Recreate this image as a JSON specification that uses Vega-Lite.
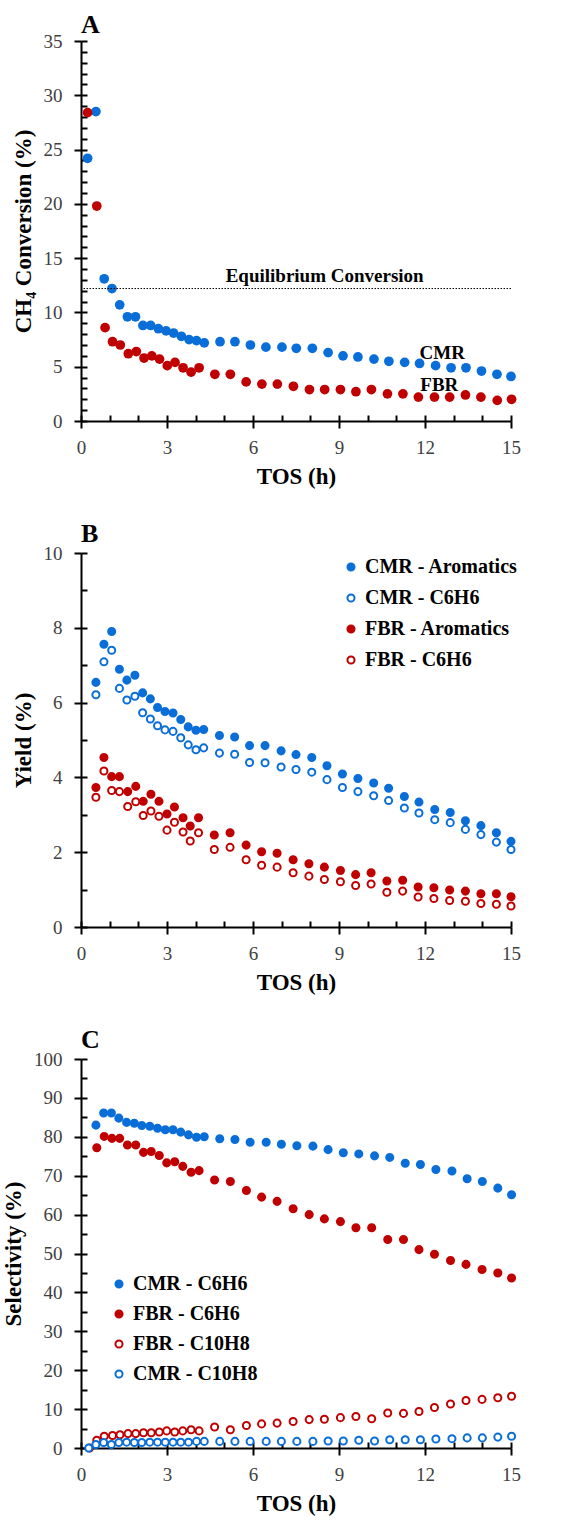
{
  "$schema": "https://vega.github.io/schema/vega-lite/v6.json",
  "padding": {"left": 2, "top": 12, "right": 5, "bottom": 5},
  "spacing": 33,
  "resolve": {"scale": {"color": "independent", "fill": "independent", "stroke": "independent", "x": "independent", "y": "independent"}, "legend": {"fill": "independent", "stroke": "independent", "color": "independent"}},
  "config": {
    "font": "Liberation Serif",
    "view": {"stroke": null},
    "axis": {"grid": false, "domainColor": "black", "domainWidth": 2, "tickColor": "black", "tickWidth": 2, "labelFont": "Liberation Serif", "labelFontSize": 19, "labelColor": "#404040", "labelOverlap": false, "labelFlush": false, "titleFont": "Liberation Serif", "titleFontSize": 23, "titleFontWeight": "bold", "titleColor": "black"},
    "title": {"font": "Liberation Serif", "fontSize": 26, "fontWeight": "bold", "anchor": "start", "frame": "group", "color": "black", "offset": -6},
    "text": {"font": "Liberation Serif"}
  },
  "datasets": {
    "convA": [
      {"reactor": "CMR", "tos": 0.23, "value": 24.2}, {"reactor": "CMR", "tos": 0.52, "value": 28.5}, {"reactor": "CMR", "tos": 0.81, "value": 13.1}, {"reactor": "CMR", "tos": 1.08, "value": 12.2}, {"reactor": "CMR", "tos": 1.35, "value": 10.7}, {"reactor": "CMR", "tos": 1.62, "value": 9.6}, {"reactor": "CMR", "tos": 1.9, "value": 9.6}, {"reactor": "CMR", "tos": 2.16, "value": 8.8}, {"reactor": "CMR", "tos": 2.43, "value": 8.8}, {"reactor": "CMR", "tos": 2.7, "value": 8.5}, {"reactor": "CMR", "tos": 2.97, "value": 8.3}, {"reactor": "CMR", "tos": 3.23, "value": 8.1}, {"reactor": "CMR", "tos": 3.5, "value": 7.8}, {"reactor": "CMR", "tos": 3.77, "value": 7.5}, {"reactor": "CMR", "tos": 4.03, "value": 7.4}, {"reactor": "CMR", "tos": 4.3, "value": 7.2}, {"reactor": "CMR", "tos": 4.85, "value": 7.3}, {"reactor": "CMR", "tos": 5.37, "value": 7.3}, {"reactor": "CMR", "tos": 5.91, "value": 7.0}, {"reactor": "CMR", "tos": 6.45, "value": 6.8}, {"reactor": "CMR", "tos": 7.01, "value": 6.8}, {"reactor": "CMR", "tos": 7.51, "value": 6.7}, {"reactor": "CMR", "tos": 8.07, "value": 6.7}, {"reactor": "CMR", "tos": 8.62, "value": 6.3}, {"reactor": "CMR", "tos": 9.14, "value": 6.0}, {"reactor": "CMR", "tos": 9.66, "value": 5.9}, {"reactor": "CMR", "tos": 10.22, "value": 5.7}, {"reactor": "CMR", "tos": 10.74, "value": 5.5}, {"reactor": "CMR", "tos": 11.29, "value": 5.4}, {"reactor": "CMR", "tos": 11.81, "value": 5.3}, {"reactor": "CMR", "tos": 12.37, "value": 5.1}, {"reactor": "CMR", "tos": 12.91, "value": 4.9}, {"reactor": "CMR", "tos": 13.43, "value": 4.9}, {"reactor": "CMR", "tos": 13.97, "value": 4.6}, {"reactor": "CMR", "tos": 14.51, "value": 4.3}, {"reactor": "CMR", "tos": 15.0, "value": 4.1},
      {"reactor": "FBR", "tos": 0.23, "value": 28.4}, {"reactor": "FBR", "tos": 0.55, "value": 19.8}, {"reactor": "FBR", "tos": 0.84, "value": 8.6}, {"reactor": "FBR", "tos": 1.1, "value": 7.3}, {"reactor": "FBR", "tos": 1.37, "value": 7.0}, {"reactor": "FBR", "tos": 1.65, "value": 6.2}, {"reactor": "FBR", "tos": 1.93, "value": 6.4}, {"reactor": "FBR", "tos": 2.2, "value": 5.8}, {"reactor": "FBR", "tos": 2.47, "value": 6.0}, {"reactor": "FBR", "tos": 2.74, "value": 5.7}, {"reactor": "FBR", "tos": 3.01, "value": 5.1}, {"reactor": "FBR", "tos": 3.28, "value": 5.4}, {"reactor": "FBR", "tos": 3.56, "value": 4.9}, {"reactor": "FBR", "tos": 3.84, "value": 4.5}, {"reactor": "FBR", "tos": 4.12, "value": 4.9}, {"reactor": "FBR", "tos": 4.67, "value": 4.3}, {"reactor": "FBR", "tos": 5.21, "value": 4.3}, {"reactor": "FBR", "tos": 5.76, "value": 3.6}, {"reactor": "FBR", "tos": 6.31, "value": 3.4}, {"reactor": "FBR", "tos": 6.85, "value": 3.4}, {"reactor": "FBR", "tos": 7.41, "value": 3.2}, {"reactor": "FBR", "tos": 7.97, "value": 2.9}, {"reactor": "FBR", "tos": 8.5, "value": 2.9}, {"reactor": "FBR", "tos": 9.05, "value": 2.9}, {"reactor": "FBR", "tos": 9.59, "value": 2.7}, {"reactor": "FBR", "tos": 10.13, "value": 2.9}, {"reactor": "FBR", "tos": 10.69, "value": 2.5}, {"reactor": "FBR", "tos": 11.23, "value": 2.5}, {"reactor": "FBR", "tos": 11.77, "value": 2.2}, {"reactor": "FBR", "tos": 12.33, "value": 2.2}, {"reactor": "FBR", "tos": 12.86, "value": 2.2}, {"reactor": "FBR", "tos": 13.41, "value": 2.4}, {"reactor": "FBR", "tos": 13.95, "value": 2.2}, {"reactor": "FBR", "tos": 14.52, "value": 1.9}, {"reactor": "FBR", "tos": 15.02, "value": 2.0}
    ],
    "eqA": [{"value": 12.2}],
    "labelsA": [
      {"label": "Equilibrium Conversion", "tos": 8.5, "value": 12.8},
      {"label": "CMR", "tos": 12.6, "value": 5.7},
      {"label": "FBR", "tos": 12.5, "value": 2.8}
    ],
    "yieldB": [
      {"series": "CMR - Aromatics", "tos": 0.52, "value": 6.54}, {"series": "CMR - Aromatics", "tos": 0.8, "value": 7.56}, {"series": "CMR - Aromatics", "tos": 1.07, "value": 7.9}, {"series": "CMR - Aromatics", "tos": 1.34, "value": 6.89}, {"series": "CMR - Aromatics", "tos": 1.6, "value": 6.6}, {"series": "CMR - Aromatics", "tos": 1.88, "value": 6.73}, {"series": "CMR - Aromatics", "tos": 2.15, "value": 6.26}, {"series": "CMR - Aromatics", "tos": 2.42, "value": 6.1}, {"series": "CMR - Aromatics", "tos": 2.67, "value": 5.87}, {"series": "CMR - Aromatics", "tos": 2.93, "value": 5.76}, {"series": "CMR - Aromatics", "tos": 3.21, "value": 5.72}, {"series": "CMR - Aromatics", "tos": 3.48, "value": 5.55}, {"series": "CMR - Aromatics", "tos": 3.74, "value": 5.35}, {"series": "CMR - Aromatics", "tos": 4.01, "value": 5.26}, {"series": "CMR - Aromatics", "tos": 4.28, "value": 5.28}, {"series": "CMR - Aromatics", "tos": 4.83, "value": 5.12}, {"series": "CMR - Aromatics", "tos": 5.36, "value": 5.08}, {"series": "CMR - Aromatics", "tos": 5.88, "value": 4.85}, {"series": "CMR - Aromatics", "tos": 6.42, "value": 4.85}, {"series": "CMR - Aromatics", "tos": 6.98, "value": 4.71}, {"series": "CMR - Aromatics", "tos": 7.5, "value": 4.61}, {"series": "CMR - Aromatics", "tos": 8.05, "value": 4.53}, {"series": "CMR - Aromatics", "tos": 8.58, "value": 4.31}, {"series": "CMR - Aromatics", "tos": 9.12, "value": 4.09}, {"series": "CMR - Aromatics", "tos": 9.66, "value": 3.97}, {"series": "CMR - Aromatics", "tos": 10.21, "value": 3.85}, {"series": "CMR - Aromatics", "tos": 10.73, "value": 3.71}, {"series": "CMR - Aromatics", "tos": 11.28, "value": 3.49}, {"series": "CMR - Aromatics", "tos": 11.79, "value": 3.34}, {"series": "CMR - Aromatics", "tos": 12.34, "value": 3.14}, {"series": "CMR - Aromatics", "tos": 12.88, "value": 3.06}, {"series": "CMR - Aromatics", "tos": 13.41, "value": 2.84}, {"series": "CMR - Aromatics", "tos": 13.95, "value": 2.71}, {"series": "CMR - Aromatics", "tos": 14.49, "value": 2.52}, {"series": "CMR - Aromatics", "tos": 15.0, "value": 2.29},
      {"series": "CMR - C6H6", "tos": 0.52, "value": 6.21}, {"series": "CMR - C6H6", "tos": 0.8, "value": 7.09}, {"series": "CMR - C6H6", "tos": 1.07, "value": 7.4}, {"series": "CMR - C6H6", "tos": 1.34, "value": 6.38}, {"series": "CMR - C6H6", "tos": 1.6, "value": 6.07}, {"series": "CMR - C6H6", "tos": 1.88, "value": 6.17}, {"series": "CMR - C6H6", "tos": 2.15, "value": 5.73}, {"series": "CMR - C6H6", "tos": 2.42, "value": 5.56}, {"series": "CMR - C6H6", "tos": 2.67, "value": 5.38}, {"series": "CMR - C6H6", "tos": 2.93, "value": 5.27}, {"series": "CMR - C6H6", "tos": 3.21, "value": 5.23}, {"series": "CMR - C6H6", "tos": 3.48, "value": 5.06}, {"series": "CMR - C6H6", "tos": 3.74, "value": 4.87}, {"series": "CMR - C6H6", "tos": 4.01, "value": 4.74}, {"series": "CMR - C6H6", "tos": 4.28, "value": 4.79}, {"series": "CMR - C6H6", "tos": 4.83, "value": 4.65}, {"series": "CMR - C6H6", "tos": 5.36, "value": 4.62}, {"series": "CMR - C6H6", "tos": 5.88, "value": 4.4}, {"series": "CMR - C6H6", "tos": 6.42, "value": 4.39}, {"series": "CMR - C6H6", "tos": 6.98, "value": 4.28}, {"series": "CMR - C6H6", "tos": 7.5, "value": 4.21}, {"series": "CMR - C6H6", "tos": 8.05, "value": 4.14}, {"series": "CMR - C6H6", "tos": 8.58, "value": 3.94}, {"series": "CMR - C6H6", "tos": 9.12, "value": 3.73}, {"series": "CMR - C6H6", "tos": 9.66, "value": 3.62}, {"series": "CMR - C6H6", "tos": 10.21, "value": 3.51}, {"series": "CMR - C6H6", "tos": 10.73, "value": 3.38}, {"series": "CMR - C6H6", "tos": 11.28, "value": 3.18}, {"series": "CMR - C6H6", "tos": 11.79, "value": 3.05}, {"series": "CMR - C6H6", "tos": 12.34, "value": 2.87}, {"series": "CMR - C6H6", "tos": 12.88, "value": 2.79}, {"series": "CMR - C6H6", "tos": 13.41, "value": 2.61}, {"series": "CMR - C6H6", "tos": 13.95, "value": 2.47}, {"series": "CMR - C6H6", "tos": 14.49, "value": 2.27}, {"series": "CMR - C6H6", "tos": 15.0, "value": 2.07},
      {"series": "FBR - Aromatics", "tos": 0.52, "value": 3.73}, {"series": "FBR - Aromatics", "tos": 0.8, "value": 4.53}, {"series": "FBR - Aromatics", "tos": 1.07, "value": 4.02}, {"series": "FBR - Aromatics", "tos": 1.34, "value": 4.02}, {"series": "FBR - Aromatics", "tos": 1.63, "value": 3.62}, {"series": "FBR - Aromatics", "tos": 1.91, "value": 3.76}, {"series": "FBR - Aromatics", "tos": 2.17, "value": 3.36}, {"series": "FBR - Aromatics", "tos": 2.44, "value": 3.55}, {"series": "FBR - Aromatics", "tos": 2.72, "value": 3.36}, {"series": "FBR - Aromatics", "tos": 3.0, "value": 3.02}, {"series": "FBR - Aromatics", "tos": 3.26, "value": 3.21}, {"series": "FBR - Aromatics", "tos": 3.56, "value": 2.92}, {"series": "FBR - Aromatics", "tos": 3.81, "value": 2.7}, {"series": "FBR - Aromatics", "tos": 4.1, "value": 2.92}, {"series": "FBR - Aromatics", "tos": 4.65, "value": 2.46}, {"series": "FBR - Aromatics", "tos": 5.2, "value": 2.52}, {"series": "FBR - Aromatics", "tos": 5.76, "value": 2.19}, {"series": "FBR - Aromatics", "tos": 6.3, "value": 2.01}, {"series": "FBR - Aromatics", "tos": 6.84, "value": 1.97}, {"series": "FBR - Aromatics", "tos": 7.4, "value": 1.8}, {"series": "FBR - Aromatics", "tos": 7.95, "value": 1.69}, {"series": "FBR - Aromatics", "tos": 8.49, "value": 1.6}, {"series": "FBR - Aromatics", "tos": 9.05, "value": 1.51}, {"series": "FBR - Aromatics", "tos": 9.58, "value": 1.4}, {"series": "FBR - Aromatics", "tos": 10.12, "value": 1.45}, {"series": "FBR - Aromatics", "tos": 10.67, "value": 1.23}, {"series": "FBR - Aromatics", "tos": 11.22, "value": 1.25}, {"series": "FBR - Aromatics", "tos": 11.76, "value": 1.07}, {"series": "FBR - Aromatics", "tos": 12.31, "value": 1.05}, {"series": "FBR - Aromatics", "tos": 12.86, "value": 0.99}, {"series": "FBR - Aromatics", "tos": 13.41, "value": 0.96}, {"series": "FBR - Aromatics", "tos": 13.95, "value": 0.89}, {"series": "FBR - Aromatics", "tos": 14.49, "value": 0.89}, {"series": "FBR - Aromatics", "tos": 15.0, "value": 0.81},
      {"series": "FBR - C6H6", "tos": 0.52, "value": 3.47}, {"series": "FBR - C6H6", "tos": 0.8, "value": 4.17}, {"series": "FBR - C6H6", "tos": 1.07, "value": 3.65}, {"series": "FBR - C6H6", "tos": 1.34, "value": 3.62}, {"series": "FBR - C6H6", "tos": 1.63, "value": 3.22}, {"series": "FBR - C6H6", "tos": 1.91, "value": 3.35}, {"series": "FBR - C6H6", "tos": 2.17, "value": 2.98}, {"series": "FBR - C6H6", "tos": 2.44, "value": 3.1}, {"series": "FBR - C6H6", "tos": 2.72, "value": 2.96}, {"series": "FBR - C6H6", "tos": 3.0, "value": 2.59}, {"series": "FBR - C6H6", "tos": 3.26, "value": 2.8}, {"series": "FBR - C6H6", "tos": 3.56, "value": 2.54}, {"series": "FBR - C6H6", "tos": 3.81, "value": 2.3}, {"series": "FBR - C6H6", "tos": 4.1, "value": 2.52}, {"series": "FBR - C6H6", "tos": 4.65, "value": 2.07}, {"series": "FBR - C6H6", "tos": 5.2, "value": 2.13}, {"series": "FBR - C6H6", "tos": 5.76, "value": 1.8}, {"series": "FBR - C6H6", "tos": 6.3, "value": 1.65}, {"series": "FBR - C6H6", "tos": 6.84, "value": 1.6}, {"series": "FBR - C6H6", "tos": 7.4, "value": 1.45}, {"series": "FBR - C6H6", "tos": 7.95, "value": 1.36}, {"series": "FBR - C6H6", "tos": 8.49, "value": 1.27}, {"series": "FBR - C6H6", "tos": 9.05, "value": 1.21}, {"series": "FBR - C6H6", "tos": 9.58, "value": 1.11}, {"series": "FBR - C6H6", "tos": 10.12, "value": 1.15}, {"series": "FBR - C6H6", "tos": 10.67, "value": 0.93}, {"series": "FBR - C6H6", "tos": 11.22, "value": 0.96}, {"series": "FBR - C6H6", "tos": 11.76, "value": 0.8}, {"series": "FBR - C6H6", "tos": 12.31, "value": 0.76}, {"series": "FBR - C6H6", "tos": 12.86, "value": 0.71}, {"series": "FBR - C6H6", "tos": 13.41, "value": 0.69}, {"series": "FBR - C6H6", "tos": 13.95, "value": 0.63}, {"series": "FBR - C6H6", "tos": 14.49, "value": 0.61}, {"series": "FBR - C6H6", "tos": 15.0, "value": 0.56}
    ],
    "selC": [
      {"series": "CMR - C6H6", "tos": 0.52, "value": 83.0}, {"series": "CMR - C6H6", "tos": 0.79, "value": 86.1}, {"series": "CMR - C6H6", "tos": 1.06, "value": 86.1}, {"series": "CMR - C6H6", "tos": 1.32, "value": 84.8}, {"series": "CMR - C6H6", "tos": 1.59, "value": 83.7}, {"series": "CMR - C6H6", "tos": 1.86, "value": 83.5}, {"series": "CMR - C6H6", "tos": 2.12, "value": 82.9}, {"series": "CMR - C6H6", "tos": 2.4, "value": 82.7}, {"series": "CMR - C6H6", "tos": 2.67, "value": 82.2}, {"series": "CMR - C6H6", "tos": 2.94, "value": 81.8}, {"series": "CMR - C6H6", "tos": 3.21, "value": 81.8}, {"series": "CMR - C6H6", "tos": 3.48, "value": 81.2}, {"series": "CMR - C6H6", "tos": 3.75, "value": 80.5}, {"series": "CMR - C6H6", "tos": 4.03, "value": 79.9}, {"series": "CMR - C6H6", "tos": 4.3, "value": 80.0}, {"series": "CMR - C6H6", "tos": 4.84, "value": 79.5}, {"series": "CMR - C6H6", "tos": 5.37, "value": 79.3}, {"series": "CMR - C6H6", "tos": 5.9, "value": 78.6}, {"series": "CMR - C6H6", "tos": 6.46, "value": 78.6}, {"series": "CMR - C6H6", "tos": 6.99, "value": 78.1}, {"series": "CMR - C6H6", "tos": 7.53, "value": 77.7}, {"series": "CMR - C6H6", "tos": 8.09, "value": 77.6}, {"series": "CMR - C6H6", "tos": 8.62, "value": 76.7}, {"series": "CMR - C6H6", "tos": 9.15, "value": 75.9}, {"series": "CMR - C6H6", "tos": 9.69, "value": 75.6}, {"series": "CMR - C6H6", "tos": 10.24, "value": 75.1}, {"series": "CMR - C6H6", "tos": 10.77, "value": 74.7}, {"series": "CMR - C6H6", "tos": 11.31, "value": 73.2}, {"series": "CMR - C6H6", "tos": 11.84, "value": 72.9}, {"series": "CMR - C6H6", "tos": 12.38, "value": 71.6}, {"series": "CMR - C6H6", "tos": 12.94, "value": 71.2}, {"series": "CMR - C6H6", "tos": 13.47, "value": 69.2}, {"series": "CMR - C6H6", "tos": 14.0, "value": 68.5}, {"series": "CMR - C6H6", "tos": 14.54, "value": 66.8}, {"series": "CMR - C6H6", "tos": 15.02, "value": 65.1},
      {"series": "FBR - C6H6", "tos": 0.55, "value": 77.2}, {"series": "FBR - C6H6", "tos": 0.81, "value": 80.1}, {"series": "FBR - C6H6", "tos": 1.08, "value": 79.6}, {"series": "FBR - C6H6", "tos": 1.35, "value": 79.6}, {"series": "FBR - C6H6", "tos": 1.62, "value": 77.9}, {"series": "FBR - C6H6", "tos": 1.91, "value": 77.9}, {"series": "FBR - C6H6", "tos": 2.18, "value": 76.0}, {"series": "FBR - C6H6", "tos": 2.45, "value": 76.2}, {"series": "FBR - C6H6", "tos": 2.73, "value": 75.2}, {"series": "FBR - C6H6", "tos": 2.99, "value": 73.3}, {"series": "FBR - C6H6", "tos": 3.27, "value": 73.6}, {"series": "FBR - C6H6", "tos": 3.55, "value": 72.4}, {"series": "FBR - C6H6", "tos": 3.84, "value": 70.9}, {"series": "FBR - C6H6", "tos": 4.12, "value": 71.3}, {"series": "FBR - C6H6", "tos": 4.66, "value": 68.9}, {"series": "FBR - C6H6", "tos": 5.21, "value": 68.5}, {"series": "FBR - C6H6", "tos": 5.77, "value": 66.2}, {"series": "FBR - C6H6", "tos": 6.3, "value": 64.5}, {"series": "FBR - C6H6", "tos": 6.84, "value": 63.4}, {"series": "FBR - C6H6", "tos": 7.4, "value": 61.5}, {"series": "FBR - C6H6", "tos": 7.96, "value": 60.0}, {"series": "FBR - C6H6", "tos": 8.49, "value": 58.9}, {"series": "FBR - C6H6", "tos": 9.05, "value": 58.2}, {"series": "FBR - C6H6", "tos": 9.59, "value": 56.6}, {"series": "FBR - C6H6", "tos": 10.14, "value": 56.6}, {"series": "FBR - C6H6", "tos": 10.7, "value": 53.6}, {"series": "FBR - C6H6", "tos": 11.25, "value": 53.6}, {"series": "FBR - C6H6", "tos": 11.79, "value": 51.0}, {"series": "FBR - C6H6", "tos": 12.33, "value": 49.8}, {"series": "FBR - C6H6", "tos": 12.89, "value": 48.2}, {"series": "FBR - C6H6", "tos": 13.43, "value": 47.2}, {"series": "FBR - C6H6", "tos": 13.99, "value": 45.9}, {"series": "FBR - C6H6", "tos": 14.54, "value": 45.0}, {"series": "FBR - C6H6", "tos": 15.02, "value": 43.7},
      {"series": "FBR - C10H8", "tos": 0.3, "value": 0.0}, {"series": "FBR - C10H8", "tos": 0.55, "value": 2.0}, {"series": "FBR - C10H8", "tos": 0.81, "value": 3.0}, {"series": "FBR - C10H8", "tos": 1.1, "value": 3.2}, {"series": "FBR - C10H8", "tos": 1.36, "value": 3.4}, {"series": "FBR - C10H8", "tos": 1.64, "value": 3.7}, {"series": "FBR - C10H8", "tos": 1.91, "value": 3.7}, {"series": "FBR - C10H8", "tos": 2.18, "value": 3.9}, {"series": "FBR - C10H8", "tos": 2.45, "value": 3.9}, {"series": "FBR - C10H8", "tos": 2.73, "value": 4.1}, {"series": "FBR - C10H8", "tos": 2.99, "value": 4.4}, {"series": "FBR - C10H8", "tos": 3.27, "value": 4.1}, {"series": "FBR - C10H8", "tos": 3.55, "value": 4.4}, {"series": "FBR - C10H8", "tos": 3.84, "value": 4.7}, {"series": "FBR - C10H8", "tos": 4.12, "value": 4.4}, {"series": "FBR - C10H8", "tos": 4.66, "value": 5.4}, {"series": "FBR - C10H8", "tos": 5.21, "value": 4.7}, {"series": "FBR - C10H8", "tos": 5.77, "value": 5.8}, {"series": "FBR - C10H8", "tos": 6.3, "value": 6.2}, {"series": "FBR - C10H8", "tos": 6.84, "value": 6.4}, {"series": "FBR - C10H8", "tos": 7.4, "value": 6.8}, {"series": "FBR - C10H8", "tos": 7.96, "value": 7.3}, {"series": "FBR - C10H8", "tos": 8.49, "value": 7.4}, {"series": "FBR - C10H8", "tos": 9.05, "value": 7.8}, {"series": "FBR - C10H8", "tos": 9.59, "value": 8.1}, {"series": "FBR - C10H8", "tos": 10.14, "value": 7.5}, {"series": "FBR - C10H8", "tos": 10.7, "value": 9.0}, {"series": "FBR - C10H8", "tos": 11.25, "value": 8.9}, {"series": "FBR - C10H8", "tos": 11.79, "value": 9.4}, {"series": "FBR - C10H8", "tos": 12.33, "value": 10.4}, {"series": "FBR - C10H8", "tos": 12.89, "value": 11.3}, {"series": "FBR - C10H8", "tos": 13.43, "value": 12.2}, {"series": "FBR - C10H8", "tos": 13.99, "value": 12.5}, {"series": "FBR - C10H8", "tos": 14.54, "value": 12.9}, {"series": "FBR - C10H8", "tos": 15.02, "value": 13.3},
      {"series": "CMR - C10H8", "tos": 0.27, "value": 0.0}, {"series": "CMR - C10H8", "tos": 0.52, "value": 0.9}, {"series": "CMR - C10H8", "tos": 0.79, "value": 1.4}, {"series": "CMR - C10H8", "tos": 1.06, "value": 0.9}, {"series": "CMR - C10H8", "tos": 1.32, "value": 1.4}, {"series": "CMR - C10H8", "tos": 1.59, "value": 1.5}, {"series": "CMR - C10H8", "tos": 1.86, "value": 1.4}, {"series": "CMR - C10H8", "tos": 2.12, "value": 1.4}, {"series": "CMR - C10H8", "tos": 2.4, "value": 1.5}, {"series": "CMR - C10H8", "tos": 2.67, "value": 1.5}, {"series": "CMR - C10H8", "tos": 2.94, "value": 1.5}, {"series": "CMR - C10H8", "tos": 3.21, "value": 1.5}, {"series": "CMR - C10H8", "tos": 3.48, "value": 1.5}, {"series": "CMR - C10H8", "tos": 3.75, "value": 1.5}, {"series": "CMR - C10H8", "tos": 4.03, "value": 1.7}, {"series": "CMR - C10H8", "tos": 4.3, "value": 1.7}, {"series": "CMR - C10H8", "tos": 4.84, "value": 1.7}, {"series": "CMR - C10H8", "tos": 5.37, "value": 1.7}, {"series": "CMR - C10H8", "tos": 5.9, "value": 1.7}, {"series": "CMR - C10H8", "tos": 6.46, "value": 1.7}, {"series": "CMR - C10H8", "tos": 6.99, "value": 1.7}, {"series": "CMR - C10H8", "tos": 7.53, "value": 1.7}, {"series": "CMR - C10H8", "tos": 8.09, "value": 1.7}, {"series": "CMR - C10H8", "tos": 8.62, "value": 1.8}, {"series": "CMR - C10H8", "tos": 9.15, "value": 1.8}, {"series": "CMR - C10H8", "tos": 9.69, "value": 2.0}, {"series": "CMR - C10H8", "tos": 10.24, "value": 1.8}, {"series": "CMR - C10H8", "tos": 10.77, "value": 2.1}, {"series": "CMR - C10H8", "tos": 11.31, "value": 2.1}, {"series": "CMR - C10H8", "tos": 11.84, "value": 2.1}, {"series": "CMR - C10H8", "tos": 12.38, "value": 2.3}, {"series": "CMR - C10H8", "tos": 12.94, "value": 2.4}, {"series": "CMR - C10H8", "tos": 13.47, "value": 2.6}, {"series": "CMR - C10H8", "tos": 14.0, "value": 2.6}, {"series": "CMR - C10H8", "tos": 14.54, "value": 2.8}, {"series": "CMR - C10H8", "tos": 15.02, "value": 3.0}
    ]
  },
  "vconcat": [
    {
      "title": {"text": "A", "offset": -6},
      "width": 430,
      "height": 380,
      "resolve": {"axis": {"x": "independent", "y": "independent"}},
      "layer": [
        {
          "data": {"name": "convA"},
          "mark": {"type": "point", "shape": "circle", "filled": true, "size": 95, "opacity": 1},
          "encoding": {
            "x": {"field": "tos", "type": "quantitative", "scale": {"domain": [0, 15], "nice": false},
              "axis": {"orient": "bottom", "title": "TOS (h)", "values": [0, 3, 6, 9, 12, 15], "ticks": true, "tickSize": 7, "labelPadding": 10, "titlePadding": 8, "grid": false, "domain": true, "domainColor": "#000000", "domainWidth": 2, "tickColor": "#000000", "tickWidth": 2, "labelFont": "Liberation Serif", "labelFontSize": 19, "labelColor": "#404040", "labelOverlap": false, "labelFlush": false, "titleFont": "Liberation Serif", "titleFontSize": 23, "titleFontWeight": "bold", "titleColor": "black"}},
            "y": {"field": "value", "type": "quantitative", "scale": {"domain": [0, 35], "nice": false},
              "axis": {"orient": "left", "title": "CH₄ Conversion (%)", "values": [0, 5, 10, 15, 20, 25, 30, 35], "ticks": true, "tickSize": 7, "labelPadding": 12, "titlePadding": 8, "grid": false, "domain": true, "domainColor": "#000000", "domainWidth": 2, "tickColor": "#000000", "tickWidth": 2, "labelFont": "Liberation Serif", "labelFontSize": 19, "labelColor": "#404040", "labelOverlap": false, "titleFont": "Liberation Serif", "titleFontSize": 23, "titleFontWeight": "bold", "titleColor": "black"}},
            "color": {"field": "reactor", "type": "nominal", "scale": {"domain": ["CMR", "FBR"], "range": ["#0A6ED8", "#C00000"]}, "legend": null}
          }
        },
        {
          "data": {"name": "eqA"},
          "mark": {"type": "rule", "color": "black", "strokeWidth": 1, "strokeDash": [1.5, 1.5]},
          "encoding": {"y": {"field": "value", "type": "quantitative", "axis": null}}
        },
        {
          "data": {"name": "labelsA"},
          "mark": {"type": "text", "font": "Liberation Serif", "fontSize": 19, "fontWeight": "bold", "color": "black", "align": "center", "baseline": "alphabetic"},
          "encoding": {
            "x": {"field": "tos", "type": "quantitative",
              "axis": {"orient": "bottom", "title": null, "labels": false, "domain": false, "grid": false, "ticks": true, "tickColor": "#000000", "tickWidth": 2, "values": [0,1,2,3,4,5,6,7,8,9,10,11,12,13,14,15], "tickSize": -6}},
            "y": {"field": "value", "type": "quantitative",
              "axis": {"orient": "left", "title": null, "labels": false, "domain": false, "grid": false, "ticks": true, "tickColor": "#000000", "tickWidth": 2, "values": [0,1,2,3,4,5,6,7,8,9,10,11,12,13,14,15,16,17,18,19,20,21,22,23,24,25,26,27,28,29,30,31,32,33,34,35], "tickSize": -6}},
            "text": {"field": "label"}
          }
        }
      ]
    },
    {
      "title": {"text": "B", "offset": -3},
      "width": 430,
      "height": 374,
      "data": {"name": "yieldB"},
      "resolve": {"axis": {"x": "independent", "y": "independent"}},
      "layer": [
        {
          "mark": {"type": "point", "shape": "circle", "size": 50, "strokeWidth": 2, "opacity": 1},
          "encoding": {
            "x": {"field": "tos", "type": "quantitative", "scale": {"domain": [0, 15], "nice": false},
              "axis": {"orient": "bottom", "title": "TOS (h)", "values": [0, 3, 6, 9, 12, 15], "ticks": true, "tickSize": 7, "labelPadding": 10, "titlePadding": 8, "grid": false, "domain": true, "domainColor": "#000000", "domainWidth": 2, "tickColor": "#000000", "tickWidth": 2, "labelFont": "Liberation Serif", "labelFontSize": 19, "labelColor": "#404040", "labelOverlap": false, "labelFlush": false, "titleFont": "Liberation Serif", "titleFontSize": 23, "titleFontWeight": "bold", "titleColor": "black"}},
            "y": {"field": "value", "type": "quantitative", "scale": {"domain": [0, 10], "nice": false},
              "axis": {"orient": "left", "title": "Yield (%)", "values": [0, 2, 4, 6, 8, 10], "ticks": true, "tickSize": 7, "labelPadding": 12, "titlePadding": 8, "grid": false, "domain": true, "domainColor": "#000000", "domainWidth": 2, "tickColor": "#000000", "tickWidth": 2, "labelFont": "Liberation Serif", "labelFontSize": 19, "labelColor": "#404040", "labelOverlap": false, "titleFont": "Liberation Serif", "titleFontSize": 23, "titleFontWeight": "bold", "titleColor": "black"}},
            "fill": {"field": "series", "type": "nominal", "scale": {"domain": ["CMR - Aromatics", "CMR - C6H6", "FBR - Aromatics", "FBR - C6H6"], "range": ["#0A6ED8", "white", "#C00000", "white"]},
              "legend": {"title": null, "orient": "none", "legendX": 260, "legendY": 4, "labelFont": "Liberation Serif", "labelFontSize": 20, "labelFontWeight": "bold", "labelColor": "black", "symbolSize": 50, "symbolStrokeWidth": 2, "rowPadding": 11, "labelOffset": 4}},
            "stroke": {"field": "series", "type": "nominal", "scale": {"domain": ["CMR - Aromatics", "CMR - C6H6", "FBR - Aromatics", "FBR - C6H6"], "range": ["#0A6ED8", "#0A6ED8", "#C00000", "#C00000"]},
              "legend": {"title": null, "orient": "none", "legendX": 260, "legendY": 4, "labelFont": "Liberation Serif", "labelFontSize": 20, "labelFontWeight": "bold", "labelColor": "black", "symbolSize": 50, "symbolStrokeWidth": 2, "rowPadding": 11, "labelOffset": 4}}
          }
        },
        {
          "mark": {"type": "point", "opacity": 0},
          "encoding": {
            "x": {"field": "tos", "type": "quantitative",
              "axis": {"orient": "bottom", "title": null, "labels": false, "domain": false, "grid": false, "ticks": true, "tickColor": "#000000", "tickWidth": 2, "values": [0,1,2,3,4,5,6,7,8,9,10,11,12,13,14,15], "tickSize": -6}},
            "y": {"field": "value", "type": "quantitative",
              "axis": {"orient": "left", "title": null, "labels": false, "domain": false, "grid": false, "ticks": true, "tickColor": "#000000", "tickWidth": 2, "values": [0,1,2,3,4,5,6,7,8,9,10], "tickSize": -6}}
          }
        }
      ]
    },
    {
      "title": {"text": "C", "offset": -3},
      "width": 430,
      "height": 389,
      "data": {"name": "selC"},
      "resolve": {"axis": {"x": "independent", "y": "independent"}},
      "layer": [
        {
          "mark": {"type": "point", "shape": "circle", "size": 50, "strokeWidth": 2, "opacity": 1},
          "encoding": {
            "x": {"field": "tos", "type": "quantitative", "scale": {"domain": [0, 15], "nice": false},
              "axis": {"orient": "bottom", "title": "TOS (h)", "values": [0, 3, 6, 9, 12, 15], "ticks": true, "tickSize": 7, "labelPadding": 10, "titlePadding": 8, "grid": false, "domain": true, "domainColor": "#000000", "domainWidth": 2, "tickColor": "#000000", "tickWidth": 2, "labelFont": "Liberation Serif", "labelFontSize": 19, "labelColor": "#404040", "labelOverlap": false, "labelFlush": false, "titleFont": "Liberation Serif", "titleFontSize": 23, "titleFontWeight": "bold", "titleColor": "black"}},
            "y": {"field": "value", "type": "quantitative", "scale": {"domain": [0, 100], "nice": false},
              "axis": {"orient": "left", "title": "Selectivity (%)", "values": [0, 10, 20, 30, 40, 50, 60, 70, 80, 90, 100], "ticks": true, "tickSize": 7, "labelPadding": 12, "titlePadding": 8, "grid": false, "domain": true, "domainColor": "#000000", "domainWidth": 2, "tickColor": "#000000", "tickWidth": 2, "labelFont": "Liberation Serif", "labelFontSize": 19, "labelColor": "#404040", "labelOverlap": false, "titleFont": "Liberation Serif", "titleFontSize": 23, "titleFontWeight": "bold", "titleColor": "black"}},
            "fill": {"field": "series", "type": "nominal", "scale": {"domain": ["CMR - C6H6", "FBR - C6H6", "FBR - C10H8", "CMR - C10H8"], "range": ["#0A6ED8", "#C00000", "white", "white"]},
              "legend": {"title": null, "orient": "none", "legendX": 28, "legendY": 215, "labelFont": "Liberation Serif", "labelFontSize": 20, "labelFontWeight": "bold", "labelColor": "black", "symbolSize": 50, "symbolStrokeWidth": 2, "rowPadding": 10, "labelOffset": 4}},
            "stroke": {"field": "series", "type": "nominal", "scale": {"domain": ["CMR - C6H6", "FBR - C6H6", "FBR - C10H8", "CMR - C10H8"], "range": ["#0A6ED8", "#C00000", "#C00000", "#0A6ED8"]},
              "legend": {"title": null, "orient": "none", "legendX": 28, "legendY": 215, "labelFont": "Liberation Serif", "labelFontSize": 20, "labelFontWeight": "bold", "labelColor": "black", "symbolSize": 50, "symbolStrokeWidth": 2, "rowPadding": 10, "labelOffset": 4}}
          }
        },
        {
          "mark": {"type": "point", "opacity": 0},
          "encoding": {
            "x": {"field": "tos", "type": "quantitative",
              "axis": {"orient": "bottom", "title": null, "labels": false, "domain": false, "grid": false, "ticks": true, "tickColor": "#000000", "tickWidth": 2, "values": [0,1,2,3,4,5,6,7,8,9,10,11,12,13,14,15], "tickSize": -6}},
            "y": {"field": "value", "type": "quantitative",
              "axis": {"orient": "left", "title": null, "labels": false, "domain": false, "grid": false, "ticks": true, "tickColor": "#000000", "tickWidth": 2, "values": [0,5,10,15,20,25,30,35,40,45,50,55,60,65,70,75,80,85,90,95,100], "tickSize": -6}}
          }
        }
      ]
    }
  ]
}
